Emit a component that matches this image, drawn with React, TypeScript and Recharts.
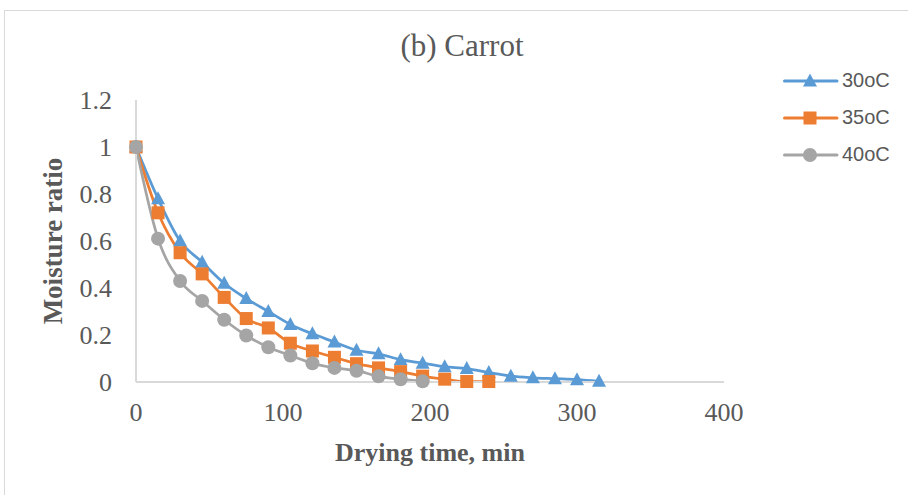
import { LineChart, Line, XAxis, YAxis, Label } from 'recharts';

const times30 = [0, 15, 30, 45, 60, 75, 90, 105, 120, 135, 150, 165, 180, 195, 210, 225, 240, 255, 270, 285, 300, 315];
const mr30 = [1, 0.78, 0.6, 0.51, 0.42, 0.355, 0.3, 0.245, 0.205, 0.17, 0.135, 0.12, 0.095, 0.08, 0.065, 0.057, 0.04, 0.025, 0.018, 0.014, 0.01, 0.003];

const times35 = [0, 15, 30, 45, 60, 75, 90, 105, 120, 135, 150, 165, 180, 195, 210, 225, 240];
const mr35 = [1, 0.72, 0.55, 0.46, 0.36, 0.27, 0.23, 0.165, 0.132, 0.105, 0.078, 0.06, 0.044, 0.025, 0.012, 0.002, 0.002];

const times40 = [0, 15, 30, 45, 60, 75, 90, 105, 120, 135, 150, 165, 180, 195];
const mr40 = [1, 0.61, 0.43, 0.345, 0.265, 0.198, 0.148, 0.113, 0.08, 0.06, 0.048, 0.024, 0.012, 0.003];

const xTicks = [0, 100, 200, 300, 400];
const yTicks = [0, 0.2, 0.4, 0.6, 0.8, 1, 1.2];

const seriesNames = ['30oC', '35oC', '40oC'];
const colors = ['#5B9BD5', '#ED7D31', '#A5A5A5'];

const toRows = (t: number[], v: number[]) => t.map((x, i) => ({ time: x, mr: v[i] }));

const textGray = '#595959';
const axisGray = '#D9D9D9';
const serif = '"Liberation Serif", "Times New Roman", serif';

const Triangle = ({ cx, cy, color }: any) => (
  <polygon points={`${cx},${cy - 7.5} ${cx + 7},${cy + 5.5} ${cx - 7},${cy + 5.5}`} fill={color} />
);
const Square = ({ cx, cy, color }: any) => (
  <rect x={cx - 6.5} y={cy - 6.5} width={13} height={13} fill={color} />
);
const Circle = ({ cx, cy, color }: any) => <circle cx={cx} cy={cy} r={7} fill={color} />;

const markers = [Triangle, Square, Circle];

const LegendBox = () => (
  <div style={{ position: 'absolute', left: 783, top: 62, fontFamily: '"Liberation Sans", Arial, sans-serif', fontSize: 20, color: textGray }}>
    {seriesNames.map((name, i) => {
      const M = markers[i];
      return (
        <div key={name} style={{ display: 'flex', alignItems: 'center', height: 37 }}>
          <svg width={56} height={20}>
            <line x1={1.5} y1={10} x2={54} y2={10} stroke={colors[i]} strokeWidth={3} strokeLinecap="round" />
            <M cx={27} cy={10} color={colors[i]} />
          </svg>
          <span style={{ marginLeft: 3 }}>{name}</span>
        </div>
      );
    })}
  </div>
);

export default function App() {
  const data = [toRows(times30, mr30), toRows(times35, mr35), toRows(times40, mr40)];
  return (
    <div style={{ position: 'absolute', left: 0, top: 0, width: 908, height: 495, background: '#fff' }}>
      <div style={{ position: 'absolute', left: 4, top: 10, width: 930, height: 500, border: `1.5px solid ${axisGray}` }} />
      <div style={{ position: 'absolute', left: 0, width: 924, top: 28, textAlign: 'center', fontFamily: serif, fontSize: 31, color: textGray }}>
        (b) Carrot
      </div>
      <LineChart width={908} height={495} margin={{ top: 100, right: 184, bottom: 0, left: 0 }} style={{ position: 'absolute', left: 0, top: 0 }}>
        <XAxis
          dataKey="time"
          type="number"
          domain={[0, 400]}
          ticks={xTicks}
          allowDuplicatedCategory={false}
          height={113}
          tickLine={false}
          tickSize={0}
          tickMargin={21}
          axisLine={{ stroke: axisGray, strokeWidth: 2 }}
          tick={{ fill: textGray, fontFamily: serif, fontSize: 26 }}
        >
          <Label
            content={({ viewBox }: any) => (
              <text x={viewBox.x + viewBox.width / 2} y={viewBox.y + 79} textAnchor="middle" fill={textGray} fontFamily={serif} fontSize={26} fontWeight="bold">
                Drying time, min
              </text>
            )}
          />
        </XAxis>
        <YAxis
          dataKey="mr"
          type="number"
          domain={[0, 1.2]}
          ticks={yTicks}
          width={136}
          tickLine={false}
          tickSize={0}
          tickMargin={24}
          axisLine={{ stroke: axisGray, strokeWidth: 2 }}
          tick={{ fill: textGray, fontFamily: serif, fontSize: 26 }}
        >
          <Label
            content={({ viewBox }: any) => {
              const cx = 53;
              const cy = viewBox.y + viewBox.height / 2;
              return (
                <text x={cx} y={cy} transform={`rotate(-90, ${cx}, ${cy})`} textAnchor="middle" dominantBaseline="central" fill={textGray} fontFamily={serif} fontSize={27} fontWeight="bold">
                  Moisture ratio
                </text>
              );
            }}
          />
        </YAxis>
        {data.map((rows, i) => {
          const M = markers[i];
          return (
            <Line
              key={seriesNames[i]}
              data={rows}
              dataKey="mr"
              name={seriesNames[i]}
              type="monotone"
              stroke={colors[i]}
              strokeWidth={2.75}
              isAnimationActive={false}
              dot={(p: any) => <M key={`${i}-${p.index}`} cx={p.cx} cy={p.cy} color={colors[i]} />}
              activeDot={false}
            />
          );
        })}
      </LineChart>
      <LegendBox />
    </div>
  );
}
